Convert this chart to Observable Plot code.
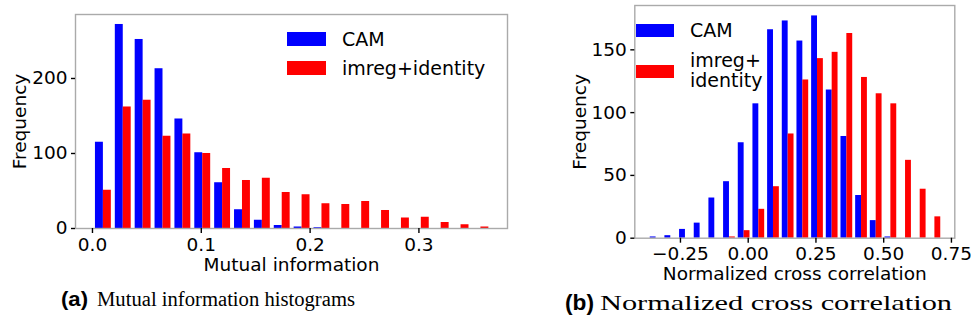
<!DOCTYPE html>
<html>
<head>
<meta charset="utf-8">
<script src="https://cdn.jsdelivr.net/npm/d3@7"></script>
<script src="https://cdn.jsdelivr.net/npm/@observablehq/plot@0.6"></script>
<style>
  html, body { margin: 0; padding: 0; background: #fff; }
  #page { position: relative; width: 971px; height: 324px; overflow: hidden; font-family: "DejaVu Sans", sans-serif; }
  #chartA { position: absolute; left: 0; top: 0; }
  #chartB { position: absolute; left: 540px; top: 0; }
  #overlay { position: absolute; left: 0; top: 0; pointer-events: none; }
</style>
</head>
<body>
<div id="page">
  <div id="chartA"></div>
  <div id="chartB"></div>
  <svg id="overlay" width="971" height="324"></svg>
</div>
<script>
// ---- data ----
const seriesNames = ["CAM", "imreg+identity"];
const seriesColors = ["#0000ff", "#ff0000"];

// (a) Mutual information histograms: 20 bins
const miBinStart = 0.0009;
const miBinWidth = 0.01826;
const miCountsCAM = [115, 272, 252, 213, 146, 101, 61, 25, 11, 4, 2, 1, 0, 0, 0, 0, 0, 0, 0, 0];
const miCountsImreg = [51, 162, 171, 123, 126, 100, 80, 64, 67, 48, 45, 33, 32, 36, 24, 14, 15, 8, 5, 2];
const miXTicks = [0, 0.1, 0.2, 0.3];
const miYTicks = [0, 100, 200];

// (b) Normalized cross correlation: 20 bins
const nccBinStart = -0.367;
const nccBinWidth = 0.05415;
const nccCountsCAM = [1, 2, 7, 12, 32, 45, 76, 107, 166, 173, 157, 177, 118, 81, 34, 14, 1, 0, 0, 0];
const nccCountsImreg = [0, 0, 0, 0, 0, 1, 6, 23, 41, 83, 126, 143, 148, 163, 128, 115, 107, 62, 39, 17];
const nccXTicks = [-0.25, 0, 0.25, 0.5, 0.75];
const nccYTicks = [0, 50, 100, 150];

// ---- build bar rows (matplotlib side-by-side histogram layout) ----
function histRows(start, width, countsList) {
  const rows = [];
  countsList.forEach((counts, s) => {
    counts.forEach((c, i) => {
      if (c > 0) rows.push({
        series: seriesNames[s],
        x1: start + (i + 0.1 + 0.4 * s) * width,
        x2: start + (i + 0.5 + 0.4 * s) * width,
        count: c
      });
    });
  });
  return rows;
}

function histPlot(o) {
  const rows = histRows(o.start, o.width, o.counts);
  return Plot.plot({
    width: o.w, height: o.h,
    marginLeft: o.ml, marginRight: o.mr, marginTop: o.mt, marginBottom: o.mb,
    style: { fontFamily: "DejaVu Sans", fontSize: "18.5px", color: "#000", background: "transparent", overflow: "visible" },
    x: { domain: o.xDomain },
    y: { domain: o.yDomain },
    color: { domain: seriesNames, range: seriesColors },
    marks: [
      Plot.rect(rows, { x1: "x1", x2: "x2", y1: 0, y2: "count", fill: "series" }),
      Plot.frame({ stroke: "#aaaaaa", strokeWidth: 1.4 }),
      Plot.axisX({ ticks: o.xTicks, tickFormat: o.xFormat, tickSize: 5, tickPadding: 4, stroke: "#000", strokeWidth: 1.4,
                   label: o.xLabel, labelArrow: "none", labelAnchor: "center", labelOffset: 42, fontSize: 18.5 }),
      Plot.axisY({ ticks: o.yTicks, tickFormat: d3.format("d"), tickSize: 4, tickPadding: 4, stroke: "#000", strokeWidth: 1.4,
                   label: "Frequency", labelArrow: "none", labelAnchor: "center", labelOffset: o.yLabelOffset, fontSize: 18.5 })
    ]
  });
}

document.getElementById("chartA").append(histPlot({
  start: miBinStart, width: miBinWidth, counts: [miCountsCAM, miCountsImreg],
  w: 510, h: 290, ml: 75, mr: 3, mt: 14, mb: 62,
  xDomain: [-0.0156, 0.3814], yDomain: [0, 285.3],
  xTicks: miXTicks, xFormat: d3.format(".1f"), yTicks: miYTicks,
  xLabel: "Mutual information", yLabelOffset: 63
}));

document.getElementById("chartB").append(histPlot({
  start: nccBinStart, width: nccBinWidth, counts: [nccCountsCAM, nccCountsImreg],
  w: 431, h: 290, ml: 94.3, mr: 16.7, mt: 5, mb: 52.3,
  xDomain: [-0.4185, 0.7624], yDomain: [0, 185.3],
  xTicks: nccXTicks, xFormat: d3.format(".2f"), yTicks: nccYTicks,
  xLabel: "Normalized cross correlation", yLabelOffset: 62
}));

// ---- legends and captions ----
const ov = d3.select("#overlay");
function legendItem(x, y, w, h, color) {
  ov.append("rect").attr("x", x).attr("y", y).attr("width", w).attr("height", h).attr("fill", color);
}
function label(x, y, txt, opts = {}) {
  const t = ov.append("text").attr("x", x).attr("y", y).text(txt)
    .attr("font-family", opts.family || "DejaVu Sans")
    .attr("font-size", opts.size || 19)
    .attr("font-weight", opts.weight || "normal")
    .attr("fill", "#000");
  if (opts.len) t.attr("textLength", opts.len).attr("lengthAdjust", "spacingAndGlyphs");
  return t;
}
// legend (a)
legendItem(287, 32, 39, 14, seriesColors[0]);
legendItem(287, 61, 39, 14, seriesColors[1]);
label(342, 46, seriesNames[0]);
label(342, 75, seriesNames[1]);
// legend (b)
legendItem(636, 24, 38, 13, seriesColors[0]);
legendItem(636, 65, 38, 13, seriesColors[1]);
label(690, 37, seriesNames[0]);
label(690, 67, "imreg+");
label(690, 87, "identity");
// captions
label(61, 306, "(a)", { family: "Liberation Sans", weight: "bold", size: 20, len: 27 });
label(97, 306, "Mutual information histograms", { family: "Liberation Serif", size: 20, len: 258 });
label(565, 310, "(b)", { family: "Liberation Sans", weight: "bold", size: 22, len: 29 });
label(600, 310, "Normalized cross correlation", { family: "Liberation Serif", size: 22, len: 352 });
</script>
</body>
</html>
